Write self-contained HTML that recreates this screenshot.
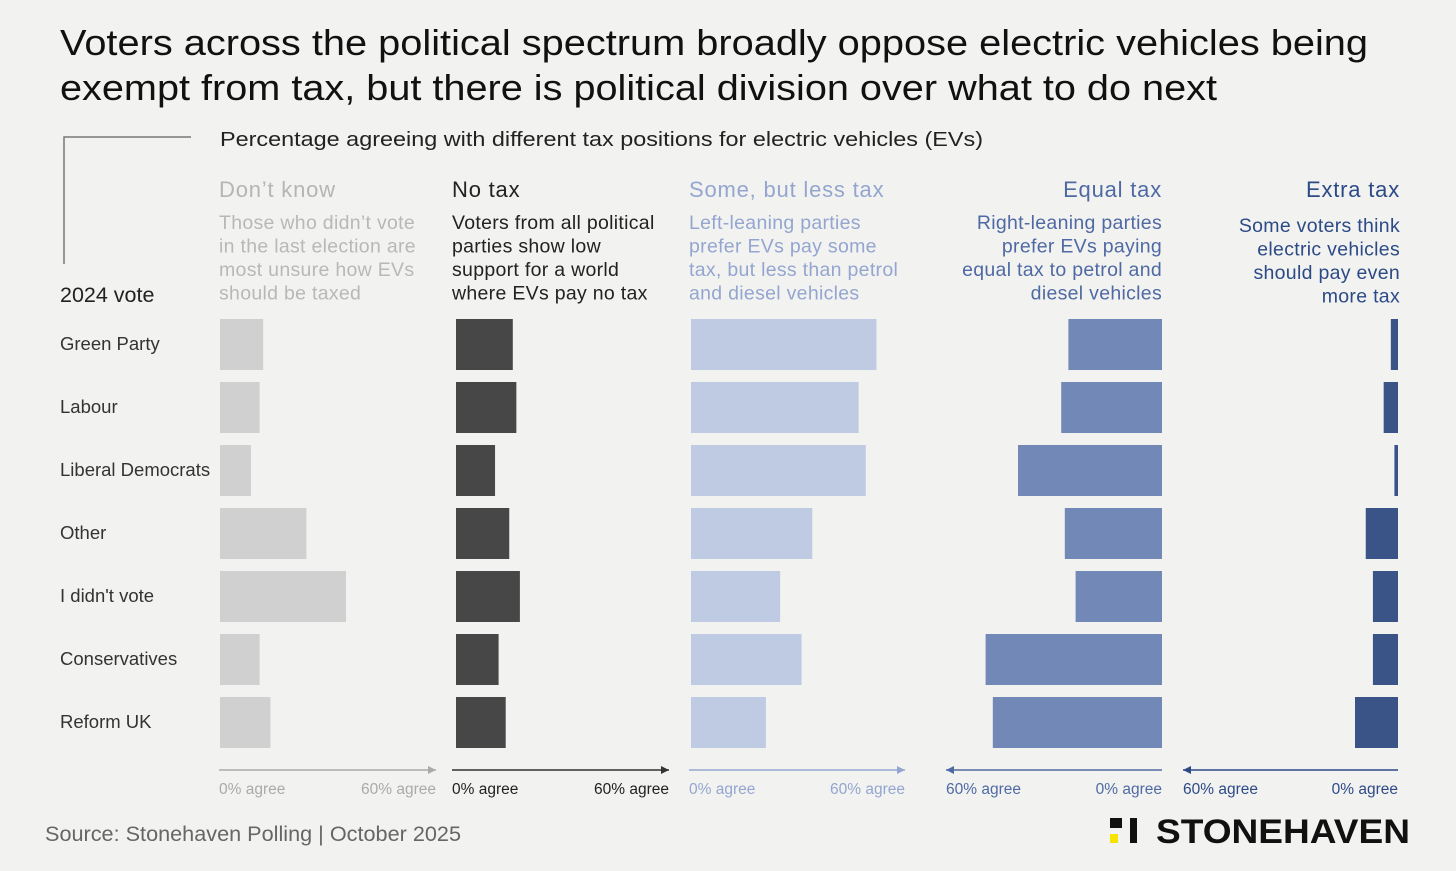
<!DOCTYPE html>
<html><head><meta charset="utf-8"><style>
body{margin:0;background:#f2f2f1;}
svg{display:block;font-family:"Liberation Sans",sans-serif;}
</style></head><body>
<svg id="c" width="1456" height="871" xmlns="http://www.w3.org/2000/svg">
<rect width="1456" height="871" fill="#f2f2f1"/>
<text x="60" y="55" font-size="36" fill="#111" textLength="1308" lengthAdjust="spacingAndGlyphs">Voters across the political spectrum broadly oppose electric vehicles being</text>
<text x="60" y="100" font-size="36" fill="#111" textLength="1157" lengthAdjust="spacingAndGlyphs">exempt from tax, but there is political division over what to do next</text>
<path d="M64 264 V137 H191" fill="none" stroke="#777" stroke-width="1.5"/>
<text x="220" y="146" font-size="20.5" fill="#222" textLength="763" lengthAdjust="spacingAndGlyphs">Percentage agreeing with different tax positions for electric vehicles (EVs)</text>
<text x="60" y="302" font-size="21.5" fill="#222">2024 vote</text>
<g id="g"></g>
<text x="45" y="841" font-size="21" fill="#666" textLength="416" lengthAdjust="spacingAndGlyphs">Source: Stonehaven Polling | October 2025</text>
<g>
<rect x="1110" y="818" width="12" height="10" fill="#111"/>
<rect x="1130" y="818" width="7" height="25" fill="#111"/>
<rect x="1110" y="834" width="8" height="9" fill="#f5e400"/>
<text x="1156" y="843" font-size="34" font-weight="bold" fill="#111" textLength="254" lengthAdjust="spacingAndGlyphs">STONEHAVEN</text>
</g>
</svg>
<script>
const parties=["Green Party","Labour","Liberal Democrats","Other","I didn't vote","Conservatives","Reform UK"];
const dontKnow=[12,11,8.6,24,35,11,14];
const noTax=[16,17,11,15,18,12,14];
const someLess=[52,47,49,34,25,31,21];
const equalTax=[26,28,40,27,24,49,47];
const extraTax=[2,4,1,9,7,7,12];
const axisLabels=["0% agree","60% agree"];
const NS="http://www.w3.org/2000/svg";
const g=document.getElementById('g');
function el(t,a,txt){const e=document.createElementNS(NS,t);for(const k in a)e.setAttribute(k,a[k]);if(txt!==undefined)e.textContent=txt;g.appendChild(e);return e;}
const rowY=i=>319+i*63, BH=51;
parties.forEach((p,i)=>{const t=el('text',{x:60,y:rowY(i)+31,'font-size':18.5,fill:'#333'},p);

});
const panels=[
 {name:'dont-know',title:"Don’t know",desc:["Those who didn’t vote","in the last election are","most unsure how EVs","should be taxed"],x0:220,x1:436,right:false,vals:dontKnow,col:'#d0d0d0',tc:'#b5b5b5',dc:'#b8b8b8',ax:'#aaa',lc:'#aaa'},
 {name:'no-tax',title:"No tax",desc:["Voters from all political","parties show low","support for a world","where EVs pay no tax"],x0:456,x1:669,right:false,vals:noTax,col:'#474747',tc:'#222',dc:'#222',ax:'#333',lc:'#222',axs:452},
 {name:'some-less-tax',title:"Some, but less tax",desc:["Left-leaning parties","prefer EVs pay some","tax, but less than petrol","and diesel vehicles"],x0:691,x1:905,right:false,vals:someLess,col:'#bfcbe3',tc:'#94a6cf',dc:'#94a6cf',ax:'#94a6cf',lc:'#94a6cf',axs:689},
 {name:'equal-tax',title:"Equal tax",desc:["Right-leaning parties","prefer EVs paying","equal tax to petrol and","diesel vehicles"],x0:1162,x1:946,right:true,vals:equalTax,col:'#7289b8',tc:'#4f6aa3',dc:'#4f6aa3',ax:'#4f6aa3',lc:'#4f6aa3'},
 {name:'extra-tax',title:"Extra tax",desc:["Some voters think","electric vehicles","should pay even","more tax"],x0:1398,x1:1183,right:true,vals:extraTax,col:'#3b5488',tc:'#2c4a85',dc:'#2c4a85',ax:'#2c4a85',lc:'#2c4a85'}
];
panels.forEach(P=>{
 const sc=v=>P.x0+(P.x1-P.x0)*v/60;
 const anchor=P.right?'end':'start', tx=P.right?P.x0+(P.name==='extra-tax'?2:0):(P.axs||P.x0-1);
 const t=el('text',{x:tx,y:197,'font-size':22,'letter-spacing':0.8,fill:P.tc,'text-anchor':anchor},P.title);
 
 
 P.desc.forEach((d,k)=>{const yy=(P.name==='extra-tax'?232:229)+k*23.5;
  const e=el('text',{x:tx,y:yy,'font-size':19.5,'letter-spacing':0.3,fill:P.dc,'text-anchor':anchor},d);
  
  });
 P.vals.forEach((v,i)=>{const a=P.x0,b=sc(v);
  const r=el('rect',{x:Math.min(a,b),y:rowY(i),width:Math.abs(b-a),height:BH,fill:P.col});
  
  });
 const s=P.right?P.x0:(P.axs||P.x0-1), e2=P.x1;
 const dir=Math.sign(e2-s);
 const ln=el('line',{x1:s,y1:770,x2:e2,y2:770,stroke:P.ax,'stroke-width':1.5});
 
 
 const ah=el('path',{d:`M${e2} 770 l${-8*dir} -4 v8 z`,fill:P.ax});
 
 
 const l0=el('text',{x:P.right?P.x0:s,y:794,'font-size':15.5,fill:P.lc,'text-anchor':P.right?'end':'start'},axisLabels[0]);
 
 
 const l1=el('text',{x:P.x1,y:794,'font-size':15.5,fill:P.lc,'text-anchor':P.right?'start':'end'},axisLabels[1]);
 
 
});
</script>
</body></html>
